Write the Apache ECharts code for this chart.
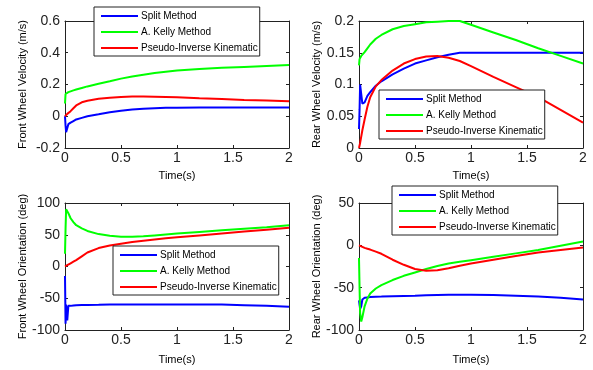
<!DOCTYPE html>
<html>
<head>
<meta charset="utf-8">
<script src="https://cdn.jsdelivr.net/npm/echarts@6/dist/echarts.min.js"></script>
<style>
html,body{margin:0;padding:0;background:#fff;}
#chart{width:593px;height:370px;}
</style>
</head>
<body>
<div id="chart"></div>
<script>
// Shared time samples (s)
var time = [0, 0.005, 0.01, 0.02, 0.03, 0.05, 0.075, 0.1, 0.15, 0.2, 0.3, 0.4, 0.5, 0.6, 0.7, 0.8, 0.9, 1.0, 1.2, 1.4, 1.6, 1.8, 2.0];
var seriesNames = ['Split Method', 'A. Kelly Method', 'Pseudo-Inverse Kinematic'];

// Front wheel velocity (m/s)
var fvSplit  = [0, -0.06, -0.1, -0.09, -0.05, -0.04, -0.03, -0.02, -0.01, 0.0, 0.012, 0.025, 0.035, 0.042, 0.047, 0.051, 0.053, 0.054, 0.055, 0.055, 0.055, 0.055, 0.055];
var fvKelly  = [0.08, 0.14, 0.145, 0.15, 0.152, 0.157, 0.163, 0.168, 0.178, 0.188, 0.205, 0.22, 0.237, 0.25, 0.262, 0.272, 0.28, 0.288, 0.298, 0.305, 0.311, 0.317, 0.323];
var fvPseudo = [0.0, 0.003, 0.008, 0.015, 0.022, 0.032, 0.05, 0.068, 0.088, 0.098, 0.11, 0.117, 0.121, 0.124, 0.124, 0.123, 0.121, 0.119, 0.113, 0.108, 0.103, 0.099, 0.095];

// Rear wheel velocity (m/s)
var rvSplit  = [0.03, 0.06, 0.1, 0.085, 0.07, 0.072, 0.082, 0.088, 0.098, 0.105, 0.116, 0.125, 0.133, 0.138, 0.143, 0.147, 0.15, 0.15, 0.15, 0.15, 0.15, 0.15, 0.15];
var rvKelly  = [0.13, 0.14, 0.142, 0.145, 0.147, 0.151, 0.157, 0.163, 0.172, 0.178, 0.187, 0.192, 0.195, 0.198, 0.199, 0.2, 0.2, 0.194, 0.182, 0.17, 0.157, 0.145, 0.133];
var rvPseudo = [0, 0.003, 0.008, 0.018, 0.028, 0.045, 0.065, 0.08, 0.097, 0.107, 0.122, 0.133, 0.14, 0.144, 0.145, 0.142, 0.137, 0.129, 0.112, 0.096, 0.08, 0.06, 0.04];

// Front wheel orientation (deg)
var foSplit  = [-15, -90, -60, -85, -62, -62, -61.5, -61, -60.7, -60.5, -60.3, -60, -60, -60, -60, -60, -60, -60, -60, -60, -61, -62, -63.5];
var foKelly  = [20, 60, 90, 88, 84, 76, 70, 65, 60, 56, 51, 48.5, 47, 47, 47.5, 49, 50.5, 52, 54.5, 57, 59.5, 62, 65];
var foPseudo = [0, 0.5, 1, 2, 3, 5, 7.5, 10, 16, 22, 29, 33, 36, 38.5, 40.5, 42.5, 44.5, 46, 49, 52, 55, 58, 61];

// Rear wheel orientation (deg)
var roSplit  = [-65, -70, -75, -72, -64, -62, -61.5, -61, -60.7, -60.5, -60, -59.7, -59.5, -59, -58.7, -58.5, -58.3, -58.3, -58.7, -59.5, -60.5, -62, -64];
var roKelly  = [-15, -50, -80, -90, -85, -72, -63, -57, -51, -47, -41, -36, -32, -28, -24.5, -21.5, -19.5, -17.5, -13.5, -9.5, -5.5, -0.5, 4.5];
var roPseudo = [0, -0.3, -0.6, -1.2, -1.8, -3, -4, -5, -7.5, -10, -17, -23, -28, -30, -29.5, -27, -24, -21.5, -17, -12.5, -8.5, -5.5, -2.5];

// Axis tick settings
var xTicks = {min: 0, max: 2, interval: 0.5};
var yFV = {min: -0.2, max: 0.6, interval: 0.2};
var yRV = {min: 0, max: 0.2, interval: 0.05};
var yFO = {min: -100, max: 100, interval: 50};
var yRO = {min: -100, max: 50, interval: 50};
var yNames = ['Front Wheel Velocity (m/s)', 'Rear Wheel Velocity (m/s)', 'Front Wheel Orientation (deg)', 'Rear Wheel Orientation (deg)'];

var FONT = '"Liberation Sans", Arial, sans-serif';
var colors = ['#0000ff', '#00ff00', '#ff0000'];

var grids = [
  {left: 65, top: 21, width: 224, height: 127},
  {left: 359, top: 21, width: 224, height: 127},
  {left: 65, top: 203, width: 224, height: 127},
  {left: 359, top: 203, width: 224, height: 127}
];
var xNameGaps = [22, 22, 24, 24];
var yRanges = [yFV, yRV, yFO, yRO];
var panelData = [
  [fvSplit, fvKelly, fvPseudo],
  [rvSplit, rvKelly, rvPseudo],
  [foSplit, foKelly, foPseudo],
  [roSplit, roKelly, roPseudo]
];
var legendPos = [
  {left: 94, top: 7},
  {left: 379, top: 90},
  {left: 113, top: 246},
  {left: 392, top: 186}
];

var axisLineStyle = {color: '#222', width: 1};
var xAxes = [], yAxes = [], series = [], legends = [];
grids.forEach(function (g, i) {
  g.containLabel = false;
  xAxes.push({
    type: 'value', gridIndex: i, min: xTicks.min, max: xTicks.max, interval: xTicks.interval,
    position: 'bottom',
    name: 'Time(s)', nameLocation: 'middle', nameGap: xNameGaps[i],
    nameTextStyle: {fontFamily: FONT, fontSize: 11, color: '#000'},
    axisLine: {show: true, onZero: false, lineStyle: axisLineStyle},
    axisTick: {show: true, inside: true, length: 3, lineStyle: axisLineStyle},
    axisLabel: {fontFamily: FONT, fontSize: 14, color: '#222', margin: 3},
    splitLine: {show: false}
  });
  xAxes.push({
    type: 'value', gridIndex: i, min: xTicks.min, max: xTicks.max, interval: xTicks.interval,
    position: 'top',
    axisLine: {show: true, onZero: false, lineStyle: axisLineStyle},
    axisTick: {show: true, inside: true, length: 3, lineStyle: axisLineStyle},
    axisLabel: {show: false},
    splitLine: {show: false}
  });
  var yr = yRanges[i];
  yAxes.push({
    type: 'value', gridIndex: i, min: yr.min, max: yr.max, interval: yr.interval,
    position: 'left',
    name: yNames[i], nameLocation: 'middle', nameGap: 37, nameRotate: 90,
    nameTextStyle: {fontFamily: FONT, fontSize: 11, color: '#000'},
    axisLine: {show: true, onZero: false, lineStyle: axisLineStyle},
    axisTick: {show: true, inside: true, length: 3, lineStyle: axisLineStyle},
    axisLabel: {fontFamily: FONT, fontSize: 14, color: '#222', margin: 5},
    splitLine: {show: false}
  });
  yAxes.push({
    type: 'value', gridIndex: i, min: yr.min, max: yr.max, interval: yr.interval,
    position: 'right',
    axisLine: {show: true, onZero: false, lineStyle: axisLineStyle},
    axisTick: {show: true, inside: true, length: 3, lineStyle: axisLineStyle},
    axisLabel: {show: false},
    splitLine: {show: false}
  });
  panelData[i].forEach(function (vals, k) {
    series.push({
      type: 'line', name: seriesNames[k],
      xAxisIndex: 2 * i, yAxisIndex: 2 * i,
      data: time.map(function (t, j) { return [t, vals[j]]; }),
      symbol: 'none', showSymbol: false, smooth: false, clip: true,
      lineStyle: {color: colors[k], width: 2},
      itemStyle: {color: colors[k]},
      animation: false, z: 2 + k
    });
  });
  legends.push({
    left: legendPos[i].left, top: legendPos[i].top,
    orient: 'vertical', data: seriesNames,
    backgroundColor: '#fff', borderColor: '#222', borderWidth: 1,
    padding: [4, 2, 3, 6], itemGap: 6, itemWidth: 37, itemHeight: 10,
    itemStyle: {opacity: 0},
    lineStyle: {width: 2},
    textStyle: {fontFamily: FONT, fontSize: 10, color: '#000', padding: [0, 0, 0, -2]},
    selectedMode: false, z: 10
  });
});

var chart = echarts.init(document.getElementById('chart'), null, {renderer: 'canvas'});
chart.setOption({
  backgroundColor: '#ffffff',
  animation: false,
  grid: grids,
  xAxis: xAxes,
  yAxis: yAxes,
  legend: legends,
  series: series
});
</script>
</body>
</html>
